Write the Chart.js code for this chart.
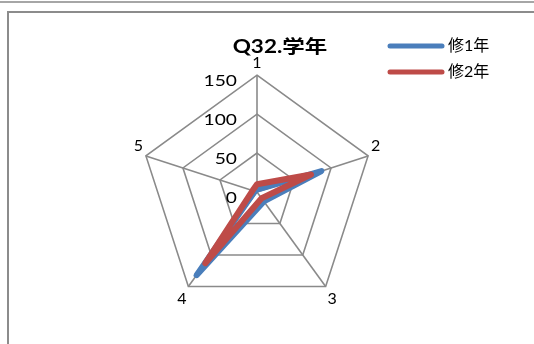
<!DOCTYPE html>
<html>
<head>
<meta charset="utf-8">
<script src="https://cdn.jsdelivr.net/npm/chart.js@4/dist/chart.umd.min.js"></script>
<style>
  html, body { margin: 0; padding: 0; background: #fff; }
  #wrap { position: relative; width: 534px; height: 344px; overflow: hidden; }
  #topline { position: absolute; left: 0; top: 1px; width: 534px; height: 2px; background: #a6a6a6; }
  #frame { position: absolute; left: 7px; top: 11px; width: 600px; height: 400px; border: 2px solid #8c8c8c; }
  canvas { position: absolute; left: 0; top: 0; }
</style>
</head>
<body>
<div id="wrap">
  <div id="topline"></div>
  <div id="frame"></div>
  <canvas id="chart" width="534" height="344"></canvas>
</div>
<script>
// data
const categories = ['1', '2', '3', '4', '5'];
const seriesNames = ['修1年', '修2年'];
const year1 = [3, 87, 15, 132, 3];
const year2 = [10, 73, 10, 113, 6];
const tickValues = [0, 50, 100, 150];
const chartTitle = 'Q32.学年';

const BLUE = '#4a7ebb';
const RED = '#be4b48';
const FONT = "Lato, 'Noto Sans CJK JP', sans-serif";

// title, legend and scale numbers drawn the way the original sheet does
const extras = {
  id: 'extras',
  afterDraw(chart) {
    const ctx = chart.ctx;
    const r = chart.scales.r;
    ctx.save();
    ctx.fillStyle = '#000';
    ctx.textBaseline = 'middle';

    // tick numbers to the left of axis 1 (wide, like the sheet font)
    ctx.font = '16px ' + FONT;
    ctx.textAlign = 'right';
    tickValues.forEach(v => {
      const d = r.getDistanceFromCenterForValue(v);
      ctx.save();
      ctx.translate(r.xCenter - 20, r.yCenter - d + 6);
      ctx.scale(1.2, 1);
      ctx.fillText(String(v), 0, 0);
      ctx.restore();
    });

    // title
    ctx.save();
    ctx.font = 'bold 18px ' + FONT;
    ctx.textAlign = 'center';
    ctx.translate(280, 47);
    ctx.scale(1.25, 1);
    ctx.fillText(chartTitle, 0, 0);
    ctx.restore();

    // legend
    ctx.font = '16px ' + FONT;
    ctx.textAlign = 'left';
    chart.data.datasets.forEach((ds, i) => {
      const y = 46 + i * 26;
      ctx.strokeStyle = ds.borderColor;
      ctx.lineWidth = 5;
      ctx.lineCap = 'round';
      ctx.beginPath();
      ctx.moveTo(390, y);
      ctx.lineTo(442, y);
      ctx.stroke();
      ctx.fillText(ds.label, 448, y);
    });
    ctx.restore();
  }
};

new Chart(document.getElementById('chart'), {
  type: 'radar',
  data: {
    labels: categories,
    datasets: [
      { label: seriesNames[0], data: year1, borderColor: BLUE, backgroundColor: 'transparent', order: 1 },
      { label: seriesNames[1], data: year2, borderColor: RED, backgroundColor: 'transparent', order: 0 }
    ]
  },
  options: {
    responsive: false,
    animation: false,
    layout: { padding: { left: 119, right: 138, top: 43, bottom: 22 } },
    elements: {
      line: { borderWidth: 6, tension: 0, borderJoinStyle: 'round', borderCapStyle: 'round' },
      point: { radius: 0, hoverRadius: 0 }
    },
    plugins: {
      legend: { display: false },
      title: { display: false },
      tooltip: { enabled: false }
    },
    scales: {
      r: {
        min: 0,
        max: 150,
        ticks: { stepSize: 50, display: false },
        grid: { color: '#8a8a8a', lineWidth: 1.6 },
        angleLines: { color: '#8a8a8a', lineWidth: 1.6 },
        pointLabels: { color: '#000', padding: 3, font: { family: FONT, size: 16 } }
      }
    }
  },
  plugins: [extras]
});
</script>
</body>
</html>
